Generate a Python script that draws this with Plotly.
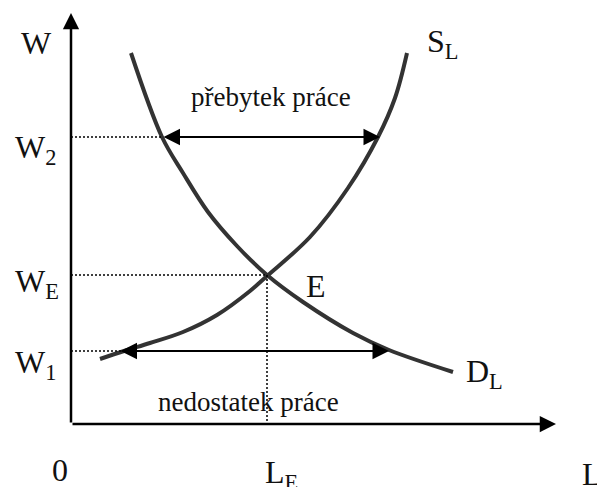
import plotly.graph_objects as go

# ---- data (L on x, W on y; arbitrary units, origin at 0) ----
dl_L = [60, 91, 112, 137, 166, 196, 232, 282, 318, 382]
dl_W = [371, 287, 251, 212, 178, 149, 122, 91, 74, 52]

sl_L = [29, 53, 79, 112, 146, 179, 196, 239, 277, 307, 324, 336]
sl_W = [65, 73, 81, 92, 109, 133, 148, 187, 236, 287, 326, 371]

L_E, W_E = 196, 149
W_2, W_1 = 287, 73
surplus_L = [91, 309]     # D and S at W2
shortage_L = [48, 318]    # S and D at W1
w1_dot_end = 99

axis_L_max, axis_W_max = 485, 411

FONT = "'Liberation Serif', 'Times New Roman', serif"
CURVE = "#333333"

fig = go.Figure()

# curves
fig.add_trace(go.Scatter(x=dl_L, y=dl_W, mode="lines",
                         line=dict(color=CURVE, width=4, shape="spline", smoothing=1)))
fig.add_trace(go.Scatter(x=sl_L, y=sl_W, mode="lines",
                         line=dict(color=CURVE, width=4, shape="spline", smoothing=1)))

# dotted guide lines
dot = dict(color="black", width=1.5, dash="2px,2px")
fig.add_trace(go.Scatter(x=[0, surplus_L[0]], y=[W_2, W_2], mode="lines", line=dot))
fig.add_trace(go.Scatter(x=[0, L_E], y=[W_E, W_E], mode="lines", line=dot))
fig.add_trace(go.Scatter(x=[0, w1_dot_end], y=[W_1, W_1], mode="lines", line=dot))
fig.add_trace(go.Scatter(x=[L_E, L_E], y=[W_E, 0], mode="lines", line=dot))

annotations = []

def arrow(x0, y0, x1, y1, width, size, both=False):
    annotations.append(dict(
        x=x1, y=y1, ax=x0, ay=y0, xref="x", yref="y", axref="x", ayref="y",
        text="", showarrow=True, arrowhead=2, arrowsize=size, arrowwidth=width,
        arrowcolor="black", standoff=0, startstandoff=0,
        arrowside="end+start" if both else "end", startarrowhead=2, startarrowsize=size))

# axes
arrow(0, 0, 0, axis_W_max, 2.5, 1.3)
arrow(0, 0, axis_L_max, 0, 2.5, 1.3)
# surplus / shortage arrows
arrow(surplus_L[0], W_2, surplus_L[1], W_2, 2.2, 1.5, both=True)
arrow(shortage_L[0], W_1, shortage_L[1], W_1, 2.2, 1.5, both=True)

def label(text, x, y, size=32, xanchor="left"):
    annotations.append(dict(x=x, y=y, xref="x", yref="y", text=text, showarrow=False,
                            xanchor=xanchor, yanchor="middle",
                            font=dict(family=FONT, size=size, color="#111111")))

label("W", -35, 381, xanchor="center")
label("W<sub>2</sub>", -58, 275)
label("W<sub>E</sub>", -58, 141)
label("W<sub>1</sub>", -58, 60)
label("0", -11, -46, xanchor="center")
label("L<sub>E</sub>", 192, -50)
label("L", 509, -50)
label("S<sub>L</sub>", 354, 381)
label("D<sub>L</sub>", 393, 51)
label("E", 245, 138, xanchor="center")
label("přebytek práce", 200, 327, size=27, xanchor="center")
label("nedostatek práce", 177, 22, size=27, xanchor="center")

fig.update_layout(
    width=597, height=487,
    margin=dict(l=0, r=0, t=0, b=0),
    paper_bgcolor="white", plot_bgcolor="white",
    showlegend=False,
    xaxis=dict(range=[-71, 526], visible=False, fixedrange=True),
    yaxis=dict(range=[-63, 424], visible=False, fixedrange=True),
    annotations=annotations,
)

fig.write_html("out.html", config={"displayModeBar": False},
               post_script="document.body.style.margin='0';")
